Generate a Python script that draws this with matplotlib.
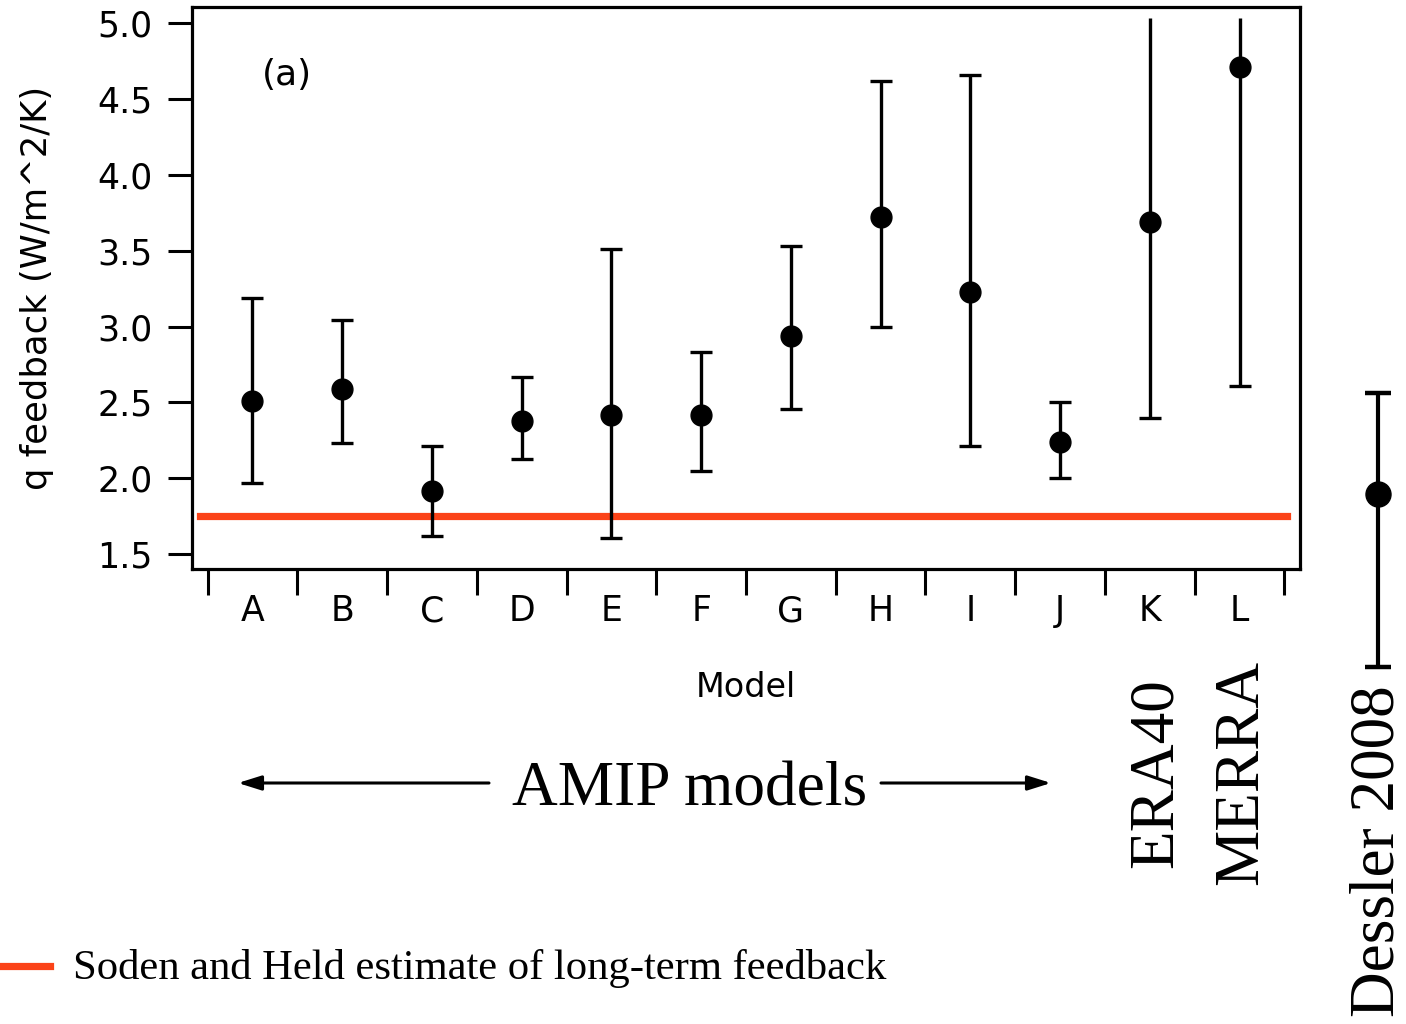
import numpy as np
import matplotlib
matplotlib.use("Agg")
import matplotlib.pyplot as plt
from matplotlib.lines import Line2D

# ---- data ----
models = ["A", "B", "C", "D", "E", "F", "G", "H", "I", "J", "K", "L"]
q_feedback = [2.51, 2.59, 1.92, 2.38, 2.42, 2.42, 2.94, 3.72, 3.23, 2.24, 3.69, 4.71]
err_low = [1.97, 2.23, 1.62, 2.13, 1.61, 2.05, 2.46, 3.00, 2.21, 2.00, 2.40, 2.61]
err_high = [3.19, 3.04, 2.21, 2.67, 3.51, 2.83, 3.53, 4.62, 4.66, 2.50, 5.40, 5.40]
soden_held = 1.75
dessler_value = 1.90
dessler_low = 0.76
dessler_high = 2.56

W, H = 1406, 1024
fig = plt.figure(figsize=(W / 100, H / 100), dpi=100)
plt.rcParams['font.family'] = ['DejaVu Sans']

def fx(x):
    return x / W

def fy(y):
    return 1 - y / H

ax = fig.add_axes([fx(192), fy(569), fx(1300) - fx(192), fy(7) - fy(569)])
ax.set_xlim(-0.673, 11.673)
ax.set_ylim(1.403, 5.105)

x = np.arange(len(models))
q = np.array(q_feedback)
lo = np.array(err_low)
hi = np.array(err_high)
ytop_visible = 5.033
hi_draw = np.minimum(hi, ytop_visible)

ax.vlines(x, lo, hi_draw, color='black', lw=2.4, zorder=3)
ax.plot(x, lo, ls='none', marker='_', ms=16, mew=2.4, color='black', zorder=3)
mask = hi < ytop_visible
ax.plot(x[mask], hi[mask], ls='none', marker='_', ms=16, mew=2.4, color='black', zorder=3)
ax.plot(x, q, ls='none', marker='o', ms=15, color='black', zorder=4)

ax.axhline(soden_held, xmin=0.007, xmax=0.988, color='#fb4318', lw=5.2, zorder=2)

# Dessler 2008 (outside the axes)
xd = 12.54
ax.vlines([xd], [dessler_low], [dessler_high], color='black', lw=3.0, clip_on=False, zorder=3)
ax.plot([xd, xd], [dessler_low, dessler_high], ls='none', marker='_', ms=19, mew=3.2,
        color='black', clip_on=False)
ax.plot([xd], [dessler_value], ls='none', marker='o', ms=18, color='black', clip_on=False)

for s in ax.spines.values():
    s.set_linewidth(2.3)

yt = [1.5, 2.0, 2.5, 3.0, 3.5, 4.0, 4.5, 5.0]
ax.set_yticks(yt)
ax.set_yticklabels([f"{v:.1f}" for v in yt])
ax.tick_params(axis='y', direction='out', length=17.5, width=2.2, pad=11, labelsize=25)

ax.set_xticks(x)
ax.set_xticklabels(models)
ax.set_xticks(np.arange(-0.5, 12.0, 1.0), minor=True)
ax.tick_params(axis='x', which='major', length=0, pad=18, labelsize=25)
ax.tick_params(axis='x', which='minor', direction='out', length=19, width=2.2)

ax.set_xlabel("Model", fontsize=24, labelpad=31)
ax.set_ylabel("q feedback (W/m^2/K)", fontsize=25.5, labelpad=31)
fig.text(fx(287), fy(75), "(a)", fontsize=26, ha='center', va='center')

serif = ['Liberation Serif', 'DejaVu Serif']
fig.text(fx(690), fy(805), "AMIP models", fontsize=45.6, family=serif, ha='center', va='baseline')
arrow_kw = dict(arrowstyle='-|>,head_length=0.7,head_width=0.22', lw=2.2, color='black',
                shrinkA=0, shrinkB=0)
fig.add_artist(matplotlib.patches.FancyArrowPatch((fx(489), fy(783)), (fx(238), fy(783)),
                                                  transform=fig.transFigure, mutation_scale=20, **arrow_kw))
fig.add_artist(matplotlib.patches.FancyArrowPatch((fx(881), fy(783)), (fx(1051), fy(783)),
                                                  transform=fig.transFigure, mutation_scale=20, **arrow_kw))

fig.text(fx(1157), fy(773), "ERA40", fontsize=45.5, family=serif, rotation=90, ha='center', va='center')
fig.text(fx(1242), fy(772), "MERRA", fontsize=45.5, family=serif, rotation=90, ha='center', va='center')
fig.text(fx(1379), fy(851), "Dessler 2008", fontsize=45.5, family=serif, rotation=90, ha='center', va='center')

fig.add_artist(Line2D([fx(0), fx(50)], [fy(966), fy(966)], transform=fig.transFigure,
                      color='#fb4318', lw=5.2))
fig.text(fx(73), fy(979), "Soden and Held estimate of long-term feedback", fontsize=30.7,
         family=serif, ha='left', va='baseline')

fig.savefig("out.png", dpi=100)
